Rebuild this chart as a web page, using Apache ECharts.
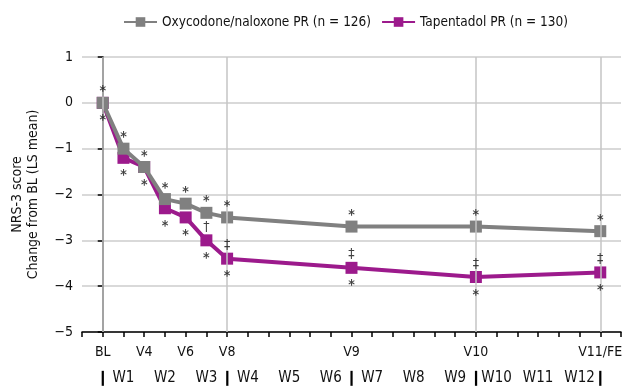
<!DOCTYPE html>
<html>
<head>
<meta charset="utf-8">
<script src="https://cdn.jsdelivr.net/npm/echarts@6/dist/echarts.min.js"></script>
<style>
  html, body { margin: 0; padding: 0; background: #fff; }
  #chart { width: 622px; height: 386px; }
</style>
</head>
<body>
<div id="chart"></div>
<script>
// Study weeks at which each visit took place (BL = week 0)
const weeks = [0, 0.5, 1, 1.5, 2, 2.5, 3, 6, 9, 12];
// LS mean change from baseline in NRS-3 score
const oxyValues = [0, -1.0, -1.4, -2.1, -2.2, -2.4, -2.5, -2.7, -2.7, -2.8];
const tapValues = [0, -1.2, -1.4, -2.3, -2.5, -3.0, -3.4, -3.6, -3.8, -3.7];
// Significance symbols drawn next to each point
const oxyMarksAbove = ['*', '*', '*', '*', '*', '*', '*', '*', '*', '*'];
const tapMarksAbove = ['', '', '', '', '', '\u2020', '\u2021', '\u2021', '\u2021', '\u2021'];
const tapMarksBelow = ['*', '*', '*', '*', '*', '*', '*', '*', '*', '*'];
// Axis text
const visitWeeks = [0, 1, 2, 3, 6, 9, 12];
const visitNames = ['BL', 'V4', 'V6', 'V8', 'V9', 'V10', 'V11/FE'];
const weekNames = ['W1', 'W2', 'W3', 'W4', 'W5', 'W6', 'W7', 'W8', 'W9', 'W10', 'W11', 'W12'];
const periodBounds = [0, 3, 6, 9, 12];
const gridWeeks = [0, 3, 9, 12];
const yTicks = [1, 0, -1, -2, -3, -4, -5];
const seriesNames = ['Oxycodone/naloxone PR (n = 126)', 'Tapentadol PR (n = 130)'];

const FONT = '"Liberation Sans Narrow", "DejaVu Sans Condensed", "Liberation Sans", sans-serif';
const GREY = '#808080';
const PURPLE = '#9c1a8c';

function pairs(values) {
  return weeks.map((w, i) => [w, values[i]]);
}

function markSeries(values, marks, dy, bold) {
  return {
    type: 'scatter',
    symbolSize: 0,
    silent: true,
    z: 5,
    data: weeks.map((w, i) => ({
      value: [w, values[i]],
      label: {
        show: marks[i] !== '',
        formatter: marks[i],
        position: 'inside',
        offset: [0, dy],
        fontFamily: FONT,
        fontSize: 14,
        fontWeight: bold ? 'bold' : 'normal',
        color: '#111'
      }
    }))
  };
}

const chart = echarts.init(document.getElementById('chart'), null, { renderer: 'canvas' });

chart.setOption({
  animation: false,
  backgroundColor: '#fff',
  textStyle: { fontFamily: FONT },
  legend: {
    top: 10,
    left: 118,
    itemWidth: 33,
    itemHeight: 12,
    itemGap: 10,
    textStyle: { fontFamily: FONT, fontSize: 13.5, color: '#111' },
    data: seriesNames
  },
  grid: { left: 82, right: 1, top: 57, bottom: 54, containLabel: false, outerBoundsMode: 'none' },
  xAxis: [
    {
      type: 'value',
      min: -0.5,
      max: 12.5,
      interval: 0.5,
      axisLine: { show: true, onZero: false, lineStyle: { color: '#000', width: 1.5 } },
      axisTick: { show: true, length: 5, lineStyle: { color: '#000', width: 1.5 } },
      splitLine: { show: false },
      axisLabel: {
        margin: 13,
        fontFamily: FONT,
        fontSize: 14,
        color: '#111',
        showMinLabel: true,
        showMaxLabel: true,
        formatter: v => {
          const k = visitWeeks.indexOf(v);
          return k >= 0 ? visitNames[k] : '';
        }
      }
    },
    {
      type: 'value',
      position: 'bottom',
      offset: 27,
      min: -0.5,
      max: 12.5,
      interval: 0.5,
      axisLine: { show: false },
      axisTick: { show: false },
      splitLine: { show: false },
      axisLabel: {
        margin: 12,
        fontFamily: FONT,
        fontSize: 15,
        color: '#111',
        showMinLabel: true,
        showMaxLabel: true,
        rich: { bar: { fontWeight: 'bold', fontSize: 15, fontFamily: FONT, color: '#000' } },
        formatter: v => {
          if (periodBounds.indexOf(v) >= 0) return '{bar|\u2759}';
          const k = Math.round(v - 0.5);
          if (Math.abs(v - 0.5 - k) < 1e-6 && k >= 0 && k < weekNames.length) return weekNames[k];
          return '';
        }
      }
    }
  ],
  yAxis: {
    type: 'value',
    min: yTicks[yTicks.length - 1],
    max: yTicks[0],
    interval: 1,
    name: 'NRS-3 score\nChange from BL (LS mean)',
    nameLocation: 'middle',
    nameGap: 41,
    nameTextStyle: { fontFamily: FONT, fontSize: 14, color: '#111', lineHeight: 16 },
    axisLine: { show: true, lineStyle: { color: '#000', width: 1.5 } },
    axisTick: { show: true, length: 5, lineStyle: { color: '#000', width: 1.5 } },
    splitLine: { show: true, lineStyle: { color: '#cccccc', width: 1.5 } },
    axisLabel: {
      margin: 9,
      fontFamily: FONT,
      fontSize: 14,
      color: '#111',
      formatter: v => (v < 0 ? '\u2212' + Math.abs(v) : String(v))
    }
  },
  series: [
    {
      type: 'line',
      silent: true,
      data: [],
      z: 1,
      markLine: {
        silent: true,
        symbol: 'none',
        label: { show: false },
        lineStyle: { color: '#c4c4c4', width: 1.5, type: 'solid' },
        data: gridWeeks.map(w => ({ xAxis: w }))
      }
    },
    {
      name: seriesNames[1],
      type: 'line',
      z: 3,
      data: pairs(tapValues),
      symbol: 'rect',
      symbolSize: 12,
      color: PURPLE,
      lineStyle: { color: PURPLE, width: 4 },
      itemStyle: { color: PURPLE }
    },
    {
      name: seriesNames[0],
      type: 'line',
      z: 4,
      data: pairs(oxyValues),
      symbol: 'rect',
      symbolSize: 12,
      color: GREY,
      lineStyle: { color: GREY, width: 4 },
      itemStyle: { color: GREY }
    },
    markSeries(oxyValues, oxyMarksAbove, -11, true),
    markSeries(tapValues, tapMarksAbove, -13, false),
    markSeries(tapValues, tapMarksBelow, 18, true)
  ]
});
</script>
</body>
</html>
